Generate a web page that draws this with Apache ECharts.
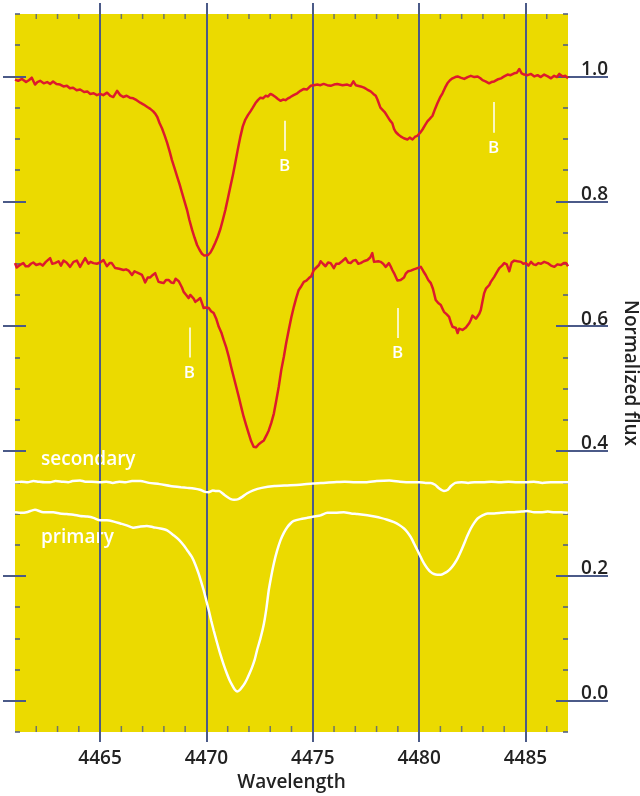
<!DOCTYPE html>
<html>
<head>
<meta charset="utf-8">
<script src="https://cdn.jsdelivr.net/npm/echarts@6/dist/echarts.min.js"></script>
<style>
  html, body { margin: 0; padding: 0; background: #ffffff; }
  #chart { width: 640px; height: 796px; }
</style>
</head>
<body>
<div id="chart"></div>
<script>
// Wavelength range (Angstrom) and normalized flux range
const wavelengthMin = 4461;
const wavelengthMax = 4487;
const fluxMin = -0.05;
const fluxMax = 1.1;

// Labelled wavelengths (with full-height guide lines), 1 Å minor ticks, labelled flux levels
const majorWavelengths = [4465, 4470, 4475, 4480, 4485];
const minorWavelengths = [4462, 4463, 4464, 4466, 4467, 4468, 4469, 4471, 4472, 4473, 4474,
  4476, 4477, 4478, 4479, 4481, 4482, 4483, 4484, 4486];
const fluxTicks = [0, 0.2, 0.4, 0.6, 0.8, 1.0];

// Observed spectrum, first epoch: [wavelength, flux]
const observedUpper = [
  [4461.00,0.995],[4461.15,0.993],[4461.33,0.996],[4461.52,0.991],[4461.65,0.994],[4461.79,0.998],[4461.94,0.987],[4462.05,0.991],
  [4462.18,0.993],[4462.35,0.989],[4462.51,0.991],[4462.65,0.988],[4462.79,0.992],[4462.95,0.988],[4463.12,0.987],[4463.28,0.984],
  [4463.44,0.985],[4463.58,0.981],[4463.73,0.982],[4463.90,0.978],[4464.06,0.979],[4464.25,0.975],[4464.40,0.976],[4464.53,0.972],
  [4464.70,0.973],[4464.85,0.970],[4465.00,0.972],[4465.15,0.970],[4465.33,0.974],[4465.48,0.969],[4465.62,0.967],[4465.80,0.977],
  [4465.95,0.970],[4466.09,0.967],[4466.25,0.969],[4466.40,0.966],[4466.56,0.965],[4466.72,0.962],[4466.89,0.958],[4467.05,0.955],
  [4467.22,0.951],[4467.36,0.948],[4467.50,0.944],[4467.60,0.940],[4467.69,0.935],[4467.80,0.925],[4467.91,0.917],[4468.03,0.906],
  [4468.15,0.894],[4468.27,0.880],[4468.38,0.866],[4468.50,0.853],[4468.62,0.840],[4468.74,0.827],[4468.85,0.814],[4468.97,0.800],
  [4469.09,0.786],[4469.20,0.770],[4469.32,0.755],[4469.44,0.742],[4469.56,0.730],[4469.68,0.722],[4469.79,0.716],[4469.90,0.713],
  [4469.98,0.711],[4470.08,0.714],[4470.19,0.718],[4470.30,0.725],[4470.42,0.734],[4470.54,0.744],[4470.66,0.756],[4470.77,0.770],
  [4470.89,0.786],[4471.01,0.805],[4471.13,0.824],[4471.25,0.843],[4471.36,0.862],[4471.48,0.884],[4471.60,0.904],[4471.71,0.920],
  [4471.83,0.931],[4471.95,0.938],[4472.07,0.944],[4472.18,0.950],[4472.30,0.957],[4472.42,0.962],[4472.54,0.966],[4472.66,0.965],
  [4472.78,0.969],[4472.90,0.968],[4473.01,0.972],[4473.13,0.970],[4473.25,0.967],[4473.36,0.964],[4473.48,0.961],[4473.60,0.963],
  [4473.72,0.962],[4473.84,0.965],[4473.95,0.967],[4474.10,0.970],[4474.27,0.973],[4474.42,0.977],[4474.58,0.980],[4474.72,0.979],
  [4474.90,0.985],[4475.05,0.986],[4475.21,0.987],[4475.36,0.986],[4475.51,0.988],[4475.68,0.986],[4475.84,0.985],[4476.00,0.987],
  [4476.15,0.988],[4476.40,0.986],[4476.62,0.987],[4476.78,0.985],[4476.91,0.992],[4477.02,0.986],[4477.10,0.985],[4477.25,0.984],
  [4477.41,0.982],[4477.56,0.979],[4477.72,0.976],[4477.85,0.972],[4477.96,0.969],[4478.04,0.963],[4478.11,0.960],[4478.18,0.950],
  [4478.27,0.947],[4478.38,0.943],[4478.51,0.936],[4478.62,0.930],[4478.74,0.925],[4478.82,0.916],[4478.90,0.911],[4479.02,0.907],
  [4479.13,0.904],[4479.28,0.901],[4479.45,0.899],[4479.56,0.902],[4479.69,0.899],[4479.80,0.903],[4479.92,0.905],[4480.05,0.910],
  [4480.16,0.915],[4480.28,0.922],[4480.39,0.928],[4480.50,0.932],[4480.63,0.937],[4480.75,0.948],[4480.86,0.957],[4480.98,0.966],
  [4481.10,0.973],[4481.22,0.982],[4481.33,0.989],[4481.45,0.994],[4481.57,0.997],[4481.70,0.999],[4481.81,1.000],[4481.95,0.998],
  [4482.12,0.996],[4482.28,0.999],[4482.43,1.001],[4482.60,0.999],[4482.75,1.000],[4482.88,0.997],[4482.98,0.994],[4483.12,0.992],
  [4483.29,0.989],[4483.40,0.991],[4483.53,0.992],[4483.68,0.995],[4483.85,0.997],[4484.00,1.000],[4484.16,1.003],[4484.30,1.002],
  [4484.47,1.005],[4484.60,1.006],[4484.71,1.012],[4484.82,1.005],[4484.94,1.003],[4485.10,1.002],[4485.26,1.004],[4485.42,1.000],
  [4485.57,1.002],[4485.72,0.999],[4485.88,1.003],[4486.05,1.000],[4486.20,0.997],[4486.35,1.001],[4486.48,0.999],[4486.59,1.004],
  [4486.75,1.000],[4486.88,1.001],[4487.00,0.997]
];

// Observed spectrum, second epoch (shifted down for display): [wavelength, flux]
const observedLower = [
  [4461.00,0.701],[4461.08,0.694],[4461.16,0.693],[4461.28,0.699],[4461.39,0.701],[4461.50,0.696],[4461.63,0.696],[4461.75,0.700],
  [4461.86,0.702],[4462.00,0.698],[4462.18,0.700],[4462.30,0.697],[4462.45,0.703],[4462.65,0.709],[4462.75,0.700],[4462.88,0.701],
  [4463.05,0.704],[4463.16,0.697],[4463.28,0.705],[4463.42,0.702],[4463.59,0.695],[4463.75,0.703],[4463.91,0.705],[4464.06,0.695],
  [4464.18,0.702],[4464.30,0.709],[4464.45,0.700],[4464.55,0.703],[4464.69,0.701],[4464.85,0.700],[4465.00,0.702],[4465.16,0.706],
  [4465.32,0.696],[4465.45,0.701],[4465.55,0.701],[4465.71,0.693],[4465.90,0.692],[4466.10,0.690],[4466.22,0.691],[4466.34,0.689],
  [4466.50,0.682],[4466.62,0.688],[4466.73,0.686],[4466.85,0.684],[4466.97,0.682],[4467.05,0.676],[4467.12,0.670],[4467.24,0.678],
  [4467.36,0.678],[4467.48,0.682],[4467.59,0.685],[4467.68,0.677],[4467.75,0.671],[4467.87,0.670],[4467.99,0.669],[4468.10,0.674],
  [4468.22,0.674],[4468.34,0.670],[4468.46,0.669],[4468.55,0.676],[4468.62,0.677],[4468.70,0.672],[4468.77,0.669],[4468.85,0.662],
  [4468.93,0.655],[4469.05,0.650],[4469.16,0.645],[4469.24,0.650],[4469.32,0.650],[4469.40,0.644],[4469.48,0.639],[4469.60,0.642],
  [4469.71,0.645],[4469.80,0.636],[4469.87,0.629],[4469.98,0.630],[4470.11,0.629],[4470.22,0.624],[4470.34,0.621],[4470.46,0.612],
  [4470.58,0.599],[4470.70,0.590],[4470.81,0.578],[4470.93,0.566],[4471.05,0.551],[4471.16,0.535],[4471.28,0.519],[4471.40,0.503],
  [4471.52,0.487],[4471.64,0.470],[4471.75,0.455],[4471.87,0.441],[4471.99,0.428],[4472.10,0.416],[4472.22,0.407],[4472.34,0.406],
  [4472.46,0.411],[4472.58,0.414],[4472.70,0.417],[4472.82,0.425],[4472.93,0.433],[4473.05,0.445],[4473.17,0.460],[4473.28,0.480],
  [4473.40,0.503],[4473.52,0.530],[4473.64,0.551],[4473.75,0.573],[4473.87,0.594],[4473.99,0.614],[4474.11,0.631],[4474.22,0.645],
  [4474.34,0.658],[4474.46,0.664],[4474.58,0.671],[4474.70,0.673],[4474.82,0.677],[4474.93,0.680],[4475.05,0.690],[4475.17,0.694],
  [4475.29,0.698],[4475.37,0.704],[4475.48,0.700],[4475.60,0.696],[4475.72,0.702],[4475.84,0.701],[4475.99,0.693],[4476.10,0.700],
  [4476.23,0.700],[4476.38,0.704],[4476.54,0.709],[4476.66,0.702],[4476.78,0.701],[4476.90,0.705],[4477.02,0.706],[4477.14,0.700],
  [4477.25,0.701],[4477.40,0.704],[4477.57,0.706],[4477.70,0.710],[4477.80,0.717],[4477.88,0.703],[4477.96,0.701],[4478.08,0.704],
  [4478.19,0.703],[4478.31,0.700],[4478.43,0.695],[4478.50,0.698],[4478.58,0.701],[4478.66,0.696],[4478.74,0.690],[4478.82,0.685],
  [4478.90,0.679],[4478.98,0.673],[4479.05,0.672],[4479.13,0.674],[4479.21,0.673],[4479.29,0.678],[4479.37,0.684],[4479.49,0.688],
  [4479.61,0.689],[4479.75,0.691],[4479.92,0.693],[4480.00,0.696],[4480.08,0.695],[4480.20,0.688],[4480.31,0.682],[4480.43,0.674],
  [4480.55,0.669],[4480.65,0.660],[4480.78,0.642],[4480.90,0.637],[4481.02,0.634],[4481.10,0.628],[4481.17,0.623],[4481.30,0.619],
  [4481.41,0.615],[4481.50,0.605],[4481.57,0.599],[4481.65,0.597],[4481.73,0.597],[4481.81,0.589],[4481.88,0.596],[4481.96,0.599],
  [4482.04,0.594],[4482.12,0.595],[4482.20,0.598],[4482.28,0.596],[4482.36,0.605],[4482.43,0.610],[4482.51,0.617],[4482.59,0.615],
  [4482.67,0.612],[4482.75,0.614],[4482.83,0.620],[4482.90,0.626],[4482.98,0.640],[4483.06,0.653],[4483.14,0.660],[4483.22,0.658],
  [4483.30,0.666],[4483.37,0.671],[4483.45,0.675],[4483.53,0.679],[4483.65,0.686],[4483.77,0.693],[4483.90,0.697],[4484.00,0.701],
  [4484.12,0.699],[4484.24,0.688],[4484.35,0.702],[4484.47,0.705],[4484.62,0.704],[4484.79,0.703],[4484.90,0.700],[4485.02,0.701],
  [4485.14,0.697],[4485.26,0.703],[4485.38,0.699],[4485.49,0.698],[4485.60,0.701],[4485.73,0.700],[4485.88,0.703],[4486.04,0.701],
  [4486.20,0.697],[4486.36,0.695],[4486.50,0.699],[4486.67,0.698],[4486.80,0.701],[4486.91,0.701],[4487.00,0.696]
];

// Disentangled spectrum of the secondary star (offset): [wavelength, flux]
const secondaryFlux = [
  [4461.0,0.350],[4461.3,0.351],[4461.6,0.350],[4461.86,0.352],[4462.1,0.351],[4462.4,0.350],[4462.65,0.350],[4462.9,0.352],
  [4463.2,0.351],[4463.5,0.350],[4463.7,0.352],[4464.06,0.353],[4464.3,0.351],[4464.6,0.351],[4465.0,0.350],[4465.3,0.351],
  [4465.6,0.349],[4465.9,0.351],[4466.2,0.350],[4466.5,0.352],[4466.9,0.352],[4467.3,0.349],[4467.8,0.347],[4468.3,0.344],
  [4468.8,0.342],[4469.1,0.341],[4469.4,0.340],[4469.7,0.338],[4469.9,0.335],[4470.1,0.334],[4470.3,0.337],[4470.45,0.336],
  [4470.6,0.336],[4470.8,0.331],[4471.0,0.326],[4471.15,0.323],[4471.3,0.322],[4471.5,0.323],[4471.7,0.327],[4471.9,0.332],
  [4472.2,0.337],[4472.6,0.341],[4473.2,0.344],[4473.8,0.345],[4474.4,0.346],[4475.0,0.348],[4475.5,0.349],[4476.0,0.350],
  [4476.5,0.351],[4477.0,0.350],[4477.5,0.350],[4478.0,0.352],[4478.6,0.353],[4479.1,0.351],[4479.6,0.350],[4480.0,0.350],
  [4480.3,0.349],[4480.55,0.349],[4480.75,0.346],[4480.95,0.340],[4481.17,0.336],[4481.35,0.338],[4481.5,0.344],[4481.7,0.349],
  [4482.0,0.350],[4482.3,0.349],[4482.6,0.350],[4483.0,0.350],[4483.4,0.351],[4483.8,0.350],[4484.2,0.351],[4484.6,0.350],
  [4485.0,0.350],[4485.4,0.351],[4485.8,0.349],[4486.2,0.350],[4486.6,0.350],[4487.0,0.350]
];

// Disentangled spectrum of the primary star: [wavelength, flux]
const primaryFlux = [
  [4461.00,0.302],[4461.30,0.301],[4461.55,0.302],[4461.94,0.306],[4462.33,0.302],[4462.80,0.302],[4463.10,0.300],[4463.44,0.299],
  [4463.75,0.298],[4464.06,0.296],[4464.40,0.295],[4464.69,0.293],[4465.00,0.289],[4465.32,0.289],[4465.65,0.287],[4465.95,0.284],
  [4466.25,0.281],[4466.57,0.277],[4466.90,0.279],[4467.20,0.280],[4467.50,0.278],[4467.83,0.276],[4468.15,0.273],[4468.46,0.265],
  [4468.70,0.258],[4468.93,0.249],[4469.12,0.240],[4469.32,0.230],[4469.48,0.218],[4469.63,0.204],[4469.75,0.191],[4469.87,0.177],
  [4469.99,0.161],[4470.11,0.145],[4470.22,0.129],[4470.34,0.113],[4470.50,0.093],[4470.65,0.075],[4470.81,0.058],[4470.97,0.043],
  [4471.09,0.033],[4471.21,0.025],[4471.33,0.018],[4471.44,0.015],[4471.56,0.017],[4471.68,0.022],[4471.80,0.028],[4471.91,0.035],
  [4472.03,0.044],[4472.15,0.054],[4472.27,0.066],[4472.38,0.081],[4472.54,0.100],[4472.70,0.123],[4472.82,0.148],[4472.93,0.177],
  [4473.05,0.200],[4473.17,0.220],[4473.32,0.240],[4473.48,0.257],[4473.64,0.269],[4473.80,0.278],[4473.95,0.284],[4474.11,0.288],
  [4474.42,0.291],[4474.74,0.293],[4475.05,0.295],[4475.37,0.297],[4475.68,0.301],[4476.05,0.301],[4476.46,0.302],[4476.80,0.300],
  [4477.10,0.299],[4477.57,0.297],[4477.90,0.295],[4478.19,0.293],[4478.50,0.290],[4478.82,0.286],[4479.05,0.282],[4479.29,0.276],
  [4479.45,0.270],[4479.61,0.262],[4479.76,0.252],[4479.92,0.241],[4480.08,0.230],[4480.23,0.220],[4480.39,0.212],[4480.55,0.206],
  [4480.70,0.203],[4480.86,0.202],[4481.02,0.202],[4481.17,0.204],[4481.33,0.207],[4481.49,0.212],[4481.65,0.219],[4481.81,0.228],
  [4481.96,0.239],[4482.12,0.252],[4482.28,0.265],[4482.43,0.276],[4482.59,0.285],[4482.75,0.292],[4482.98,0.297],[4483.22,0.300],
  [4483.53,0.300],[4483.85,0.301],[4484.15,0.302],[4484.47,0.302],[4484.80,0.303],[4485.10,0.304],[4485.40,0.302],[4485.73,0.302],
  [4486.05,0.303],[4486.36,0.302],[4486.68,0.302],[4486.99,0.301]
];

// Blend markers "B": [wavelength, top of marker, bottom of marker] for each observed spectrum
const blendMarksUpper = [[4473.68, 0.929, 0.881], [4483.50, 0.959, 0.910]];
const blendMarksLower = [[4469.20, 0.598, 0.550], [4478.99, 0.629, 0.581]];

const AXIS_COLOR = '#4b5a88';
const PANEL_COLOR = '#ebda00';
const SPECTRUM_RED = '#dd1a2c';
const FONT = "'Open Sans', 'Noto Sans', sans-serif";

function blendMarkLine(marks) {
  return {
    silent: true,
    symbol: ['none', 'none'],
    animation: false,
    lineStyle: { color: '#ffffff', width: 1.5, type: 'solid' },
    label: {
      show: true,
      position: 'end',
      distance: 7,
      formatter: 'B',
      color: '#ffffff',
      fontFamily: FONT,
      fontSize: 17,
      fontWeight: 600
    },
    emphasis: { disabled: true },
    data: marks.map(m => [{ coord: [m[0], m[1]] }, { coord: [m[0], m[2]] }])
  };
}

function hiddenAxisParts() {
  return {
    axisLine: { show: false, onZero: false },
    splitLine: { show: false },
    axisPointer: { show: false }
  };
}

// 1 Å minor ticks drawn as short bars standing on the bottom edge / hanging from the top edge
function minorTickSeries(edgeValue, length, upward) {
  return {
    type: 'scatter', xAxisIndex: 0, yAxisIndex: 0, silent: true, clip: false, z: 2,
    symbol: 'rect', symbolSize: [1.5, length],
    symbolOffset: [0, upward ? -length / 2 : length / 2],
    itemStyle: { color: AXIS_COLOR },
    emphasis: { disabled: true },
    data: minorWavelengths.map(v => [v, edgeValue])
  };
}

const chart = echarts.init(document.getElementById('chart'), null, { renderer: 'canvas' });

chart.setOption({
  animation: false,
  backgroundColor: '#ffffff',
  grid: {
    left: 15, top: 14, right: 72, bottom: 64,
    containLabel: false,
    outerBoundsMode: 'none',
    show: true,
    backgroundColor: PANEL_COLOR,
    borderWidth: 0
  },
  xAxis: [
    // labelled wavelengths at the bottom, with stubs below the panel
    Object.assign({
      type: 'value', position: 'bottom', min: wavelengthMin, max: wavelengthMax,
      axisTick: { show: true, inside: false, length: 10, customValues: majorWavelengths, lineStyle: { color: AXIS_COLOR, width: 2 } },
      axisLabel: {
        show: true, customValues: majorWavelengths, margin: 17,
        formatter: v => String(v),
        color: '#222222', fontFamily: FONT, fontSize: 19, fontWeight: 600
      },
      name: 'Wavelength', nameLocation: 'middle', nameGap: 41,
      nameTextStyle: { color: '#222222', fontFamily: FONT, fontSize: 19, fontWeight: 600 }
    }, hiddenAxisParts()),
    // guide-line stubs above the panel
    Object.assign({
      type: 'value', position: 'top', min: wavelengthMin, max: wavelengthMax,
      axisTick: { show: true, inside: false, length: 11, customValues: majorWavelengths, lineStyle: { color: AXIS_COLOR, width: 2 } },
      axisLabel: { show: false }
    }, hiddenAxisParts())
  ],
  yAxis: [
    // minor ticks on the left edge, every 0.05
    Object.assign({
      type: 'value', position: 'left', min: fluxMin, max: fluxMax, interval: 0.05,
      axisTick: { show: true, inside: true, length: 5, lineStyle: { color: AXIS_COLOR, width: 1.5 } },
      axisLabel: { show: false }
    }, hiddenAxisParts()),
    // major ticks crossing the left edge
    Object.assign({
      type: 'value', position: 'left', offset: 12, min: fluxMin, max: fluxMax,
      axisTick: { show: true, inside: true, length: 23, customValues: fluxTicks, lineStyle: { color: AXIS_COLOR, width: 2 } },
      axisLabel: { show: false }
    }, hiddenAxisParts()),
    // minor ticks on the right edge
    Object.assign({
      type: 'value', position: 'right', min: fluxMin, max: fluxMax, interval: 0.05,
      axisTick: { show: true, inside: true, length: 5, lineStyle: { color: AXIS_COLOR, width: 1.5 } },
      axisLabel: { show: false }
    }, hiddenAxisParts()),
    // labelled flux levels on the right, written above their tick
    Object.assign({
      type: 'value', position: 'right', offset: 40, min: fluxMin, max: fluxMax,
      axisTick: { show: true, inside: true, length: 52, customValues: fluxTicks, lineStyle: { color: AXIS_COLOR, width: 2 } },
      axisLabel: {
        show: true, inside: true, margin: 0, customValues: fluxTicks,
        formatter: v => Number(v).toFixed(1),
        align: 'right', verticalAlign: 'bottom', lineHeight: 14,
        color: '#222222', fontFamily: FONT, fontSize: 19, fontWeight: 600
      },
      name: 'Normalized flux', nameLocation: 'middle', nameGap: 13, nameRotate: -90,
      nameTextStyle: { color: '#222222', fontFamily: FONT, fontSize: 19, fontWeight: 600 }
    }, hiddenAxisParts())
  ],
  graphic: [
    { type: 'text', left: 41, top: 450, silent: true,
      style: { text: 'secondary', fill: '#ffffff', font: "600 19px 'Open Sans', 'Noto Sans', sans-serif" } },
    { type: 'text', left: 41, top: 528, silent: true,
      style: { text: 'primary', fill: '#ffffff', font: "600 19px 'Open Sans', 'Noto Sans', sans-serif" } }
  ],
  series: [
    {
      name: 'primary', type: 'line', xAxisIndex: 0, yAxisIndex: 0,
      data: primaryFlux, showSymbol: false, smooth: 0.2, z: 3,
      lineStyle: { color: '#ffffff', width: 2.5 },
      emphasis: { disabled: true },
      // full-height wavelength guide lines behind the spectra
      markLine: {
        silent: true, z: 1, symbol: ['none', 'none'], animation: false,
        lineStyle: { color: AXIS_COLOR, width: 2, type: 'solid' },
        label: { show: false },
        emphasis: { disabled: true },
        data: majorWavelengths.map(v => ({ xAxis: v }))
      }
    },
    {
      name: 'secondary', type: 'line', xAxisIndex: 0, yAxisIndex: 0,
      data: secondaryFlux, showSymbol: false, smooth: 0.2, z: 3,
      lineStyle: { color: '#ffffff', width: 2.5 },
      emphasis: { disabled: true }
    },
    {
      name: 'epoch 2', type: 'line', xAxisIndex: 0, yAxisIndex: 0,
      data: observedLower, showSymbol: false, z: 3,
      lineStyle: { color: SPECTRUM_RED, width: 2.5, join: 'round' },
      emphasis: { disabled: true },
      markLine: blendMarkLine(blendMarksLower)
    },
    {
      name: 'epoch 1', type: 'line', xAxisIndex: 0, yAxisIndex: 0,
      data: observedUpper, showSymbol: false, z: 3,
      lineStyle: { color: SPECTRUM_RED, width: 2.5, join: 'round' },
      emphasis: { disabled: true },
      markLine: blendMarkLine(blendMarksUpper)
    },
    minorTickSeries(fluxMin, 6, true),
    minorTickSeries(fluxMax, 5, false)
  ]
});
</script>
</body>
</html>
